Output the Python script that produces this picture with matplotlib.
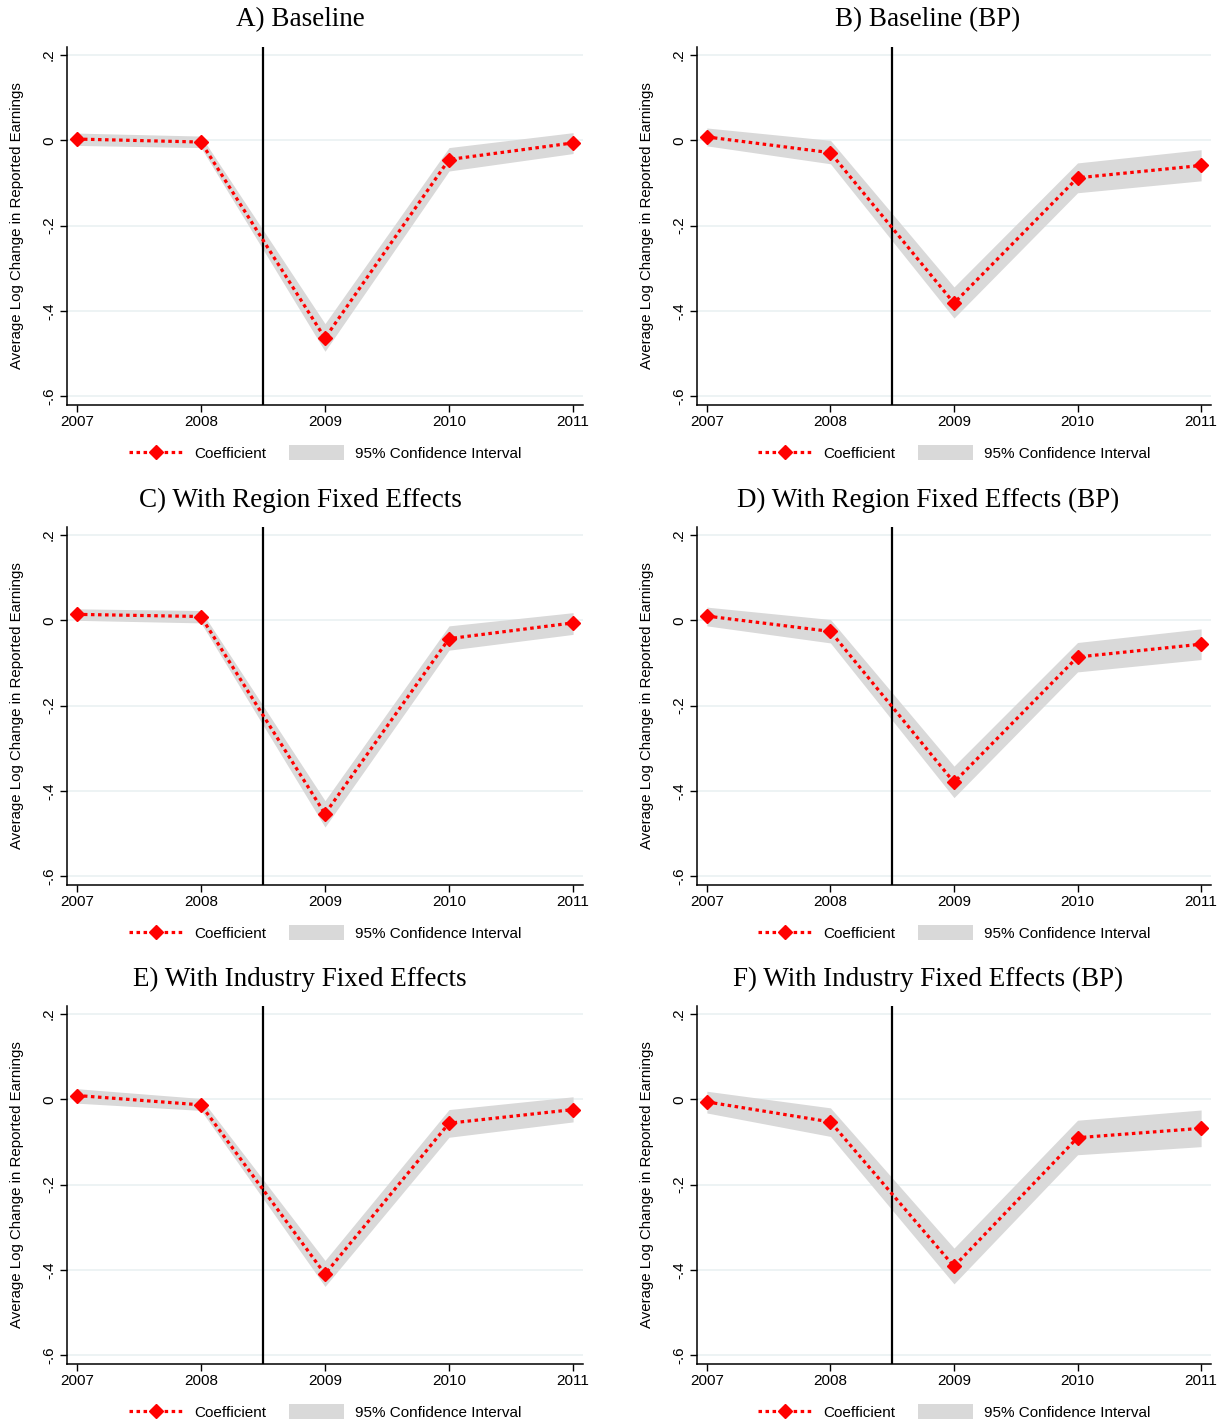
import numpy as np
import matplotlib
matplotlib.use("Agg")
import matplotlib.pyplot as plt
from matplotlib.lines import Line2D
from matplotlib.patches import Patch

plt.rcParams['font.family'] = ['Liberation Sans', 'DejaVu Sans']

years = [2007, 2008, 2009, 2010, 2011]

titles = [
    "A) Baseline",
    "B) Baseline (BP)",
    "C) With Region Fixed Effects",
    "D) With Region Fixed Effects (BP)",
    "E) With Industry Fixed Effects",
    "F) With Industry Fixed Effects (BP)",
]

coef_a = [0.003, -0.004, -0.464, -0.045, -0.006]
lo_a = [-0.012, -0.017, -0.495, -0.072, -0.031]
hi_a = [0.017, 0.010, -0.430, -0.017, 0.018]

coef_b = [0.008, -0.029, -0.382, -0.088, -0.059]
lo_b = [-0.013, -0.055, -0.417, -0.123, -0.095]
hi_b = [0.029, 0.000, -0.344, -0.053, -0.022]

coef_c = [0.014, 0.009, -0.454, -0.043, -0.006]
lo_c = [0.000, -0.006, -0.485, -0.070, -0.033]
hi_c = [0.027, 0.023, -0.423, -0.013, 0.018]

coef_d = [0.010, -0.026, -0.380, -0.086, -0.056]
lo_d = [-0.013, -0.053, -0.416, -0.121, -0.092]
hi_d = [0.031, 0.002, -0.342, -0.052, -0.020]

coef_e = [0.009, -0.013, -0.410, -0.056, -0.024]
lo_e = [-0.009, -0.026, -0.439, -0.089, -0.053]
hi_e = [0.025, 0.002, -0.378, -0.024, 0.006]

coef_f = [-0.006, -0.053, -0.392, -0.090, -0.068]
lo_f = [-0.032, -0.087, -0.433, -0.130, -0.111]
hi_f = [0.019, -0.020, -0.349, -0.049, -0.025]

panels = [
    (coef_a, lo_a, hi_a), (coef_b, lo_b, hi_b),
    (coef_c, lo_c, hi_c), (coef_d, lo_d, hi_d),
    (coef_e, lo_e, hi_e), (coef_f, lo_f, hi_f),
]

yticks = [0.2, 0, -0.2, -0.4, -0.6]
ytick_labels = [".2", "0", "-.2", "-.4", "-.6"]
ylabel = "Average Log Change in Reported Earnings"

W, H = 1227, 1425
fig = plt.figure(figsize=(W / 100, H / 100), dpi=100)
fig.set_facecolor('white')

# pixel boxes for each panel: (left, right, top, bottom)
cols = [(67, 583), (697, 1211)]
rows = [(47, 405), (527, 885), (1006, 1364)]
title_x = [300, 928]

for i, (coef, lo, hi) in enumerate(panels):
    r, c = divmod(i, 2)
    left, right = cols[c]
    top, bottom = rows[r]
    h = bottom - top
    w = right - left
    ax = fig.add_axes([left / W, 1 - bottom / H, w / W, h / H])

    ax.fill_between(years, lo, hi, color='#d9d9d9', lw=0, zorder=1)
    ax.plot(years, coef, color='red', lw=2.3, linestyle=(0, (1.1, 1.1)),
            marker='D', markersize=7, zorder=3)
    ax.axvline(2008.5, color='black', lw=1.6, zorder=2)

    ax.set_xlim(2006.92, 2011.08)
    ax.set_ylim(-0.621, 0.219)
    ax.set_yticks(yticks)
    ax.set_yticklabels(ytick_labels, rotation=90, va='center')
    ax.set_xticks(years)
    ax.grid(axis='y', color='#eaf1f2', lw=1.2, zorder=0)
    ax.set_axisbelow(True)

    ax.tick_params(axis='both', direction='out', length=5, width=1, labelsize=11)
    ax.tick_params(axis='y', pad=3)
    ax.tick_params(axis='x', pad=2)
    for s in ['top', 'right']:
        ax.spines[s].set_visible(False)
    for s in ['left', 'bottom']:
        ax.spines[s].set_linewidth(1.1)

    ax.set_ylabel(ylabel, fontsize=10.8)
    ax.yaxis.set_label_coords(-43 / w, 0.5)

    fig.text(title_x[c] / W, 1 - (top - 27) / H, titles[i], ha='center', va='center',
             fontsize=19.5, family=['Liberation Serif', 'DejaVu Serif'])

    handles = [
        Line2D([], [], color='red', lw=2.3, linestyle=(0, (1.1, 1.1)),
               marker='D', markersize=7, markevery=[1]),
        Patch(facecolor='#d9d9d9', edgecolor='none'),
    ]
    ax.legend(handles, ["Coefficient", "95% Confidence Interval"], ncol=2,
              loc='center', bbox_to_anchor=(0.5, -48 / h),
              frameon=False, fontsize=11, handlelength=3.6, handleheight=1.1,
              handletextpad=0.7, columnspacing=1.5)

fig.savefig("out.png", dpi=100, facecolor='white')
